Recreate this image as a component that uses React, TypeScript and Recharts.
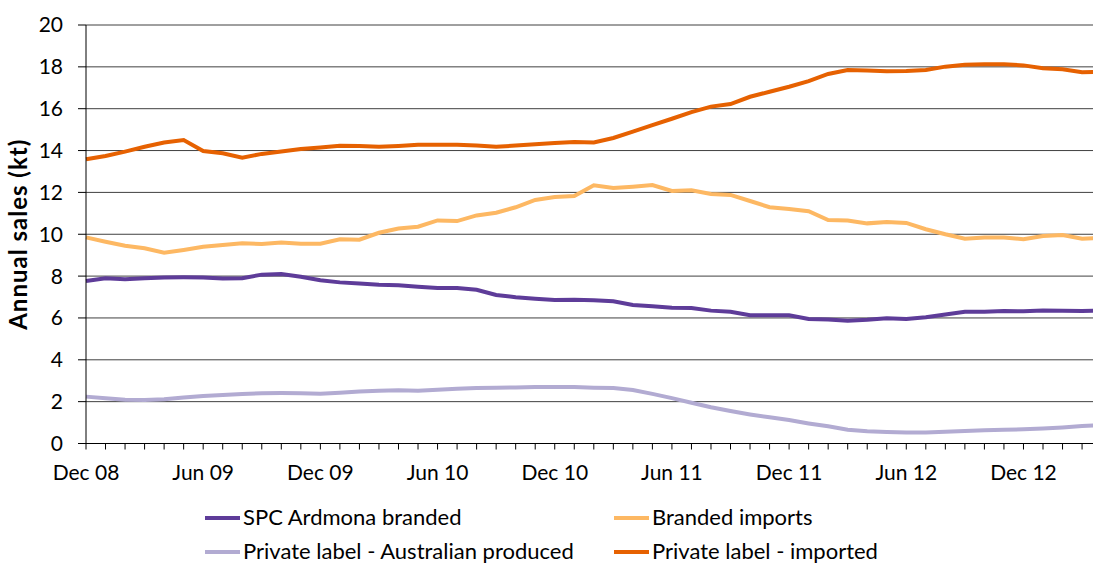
import React from 'react';
import { LineChart, Line, XAxis, YAxis, CartesianGrid, Legend } from 'recharts';

// monthly, Dec 08 .. Apr 13
const months = [
    'Dec 08', 'Jan 09', 'Feb 09', 'Mar 09', 'Apr 09', 'May 09', 'Jun 09', 'Jul 09', 'Aug 09', 'Sep 09', 'Oct 09', 'Nov 09',
    'Dec 09', 'Jan 10', 'Feb 10', 'Mar 10', 'Apr 10', 'May 10', 'Jun 10', 'Jul 10', 'Aug 10', 'Sep 10', 'Oct 10', 'Nov 10',
    'Dec 10', 'Jan 11', 'Feb 11', 'Mar 11', 'Apr 11', 'May 11', 'Jun 11', 'Jul 11', 'Aug 11', 'Sep 11', 'Oct 11', 'Nov 11',
    'Dec 11', 'Jan 12', 'Feb 12', 'Mar 12', 'Apr 12', 'May 12', 'Jun 12', 'Jul 12', 'Aug 12', 'Sep 12', 'Oct 12', 'Nov 12',
    'Dec 12', 'Jan 13', 'Feb 13', 'Mar 13', 'Apr 13',
];

const tickLabels = ['Dec 08', 'Jun 09', 'Dec 09', 'Jun 10', 'Dec 10', 'Jun 11', 'Dec 11', 'Jun 12', 'Dec 12'];
const yTicks = [0, 2, 4, 6, 8, 10, 12, 14, 16, 18, 20];

const spcBranded = [
    7.77, 7.9, 7.85, 7.9, 7.93, 7.94, 7.93, 7.88, 7.9, 8.07, 8.1, 7.97,
    7.8, 7.7, 7.65, 7.59, 7.56, 7.49, 7.43, 7.43, 7.35, 7.1, 6.99, 6.92,
    6.86, 6.87, 6.84, 6.8, 6.62, 6.56, 6.49, 6.48, 6.35, 6.3, 6.13, 6.13,
    6.13, 5.95, 5.93, 5.87, 5.91, 5.98, 5.95, 6.03, 6.16, 6.3, 6.3, 6.33,
    6.32, 6.36, 6.35, 6.33, 6.36,
];

const brandedImports = [
    9.85, 9.64, 9.45, 9.33, 9.12, 9.25, 9.4, 9.49, 9.57, 9.53, 9.6, 9.55,
    9.55, 9.76, 9.74, 10.07, 10.27, 10.36, 10.66, 10.63, 10.9, 11.03, 11.29, 11.64,
    11.78, 11.83, 12.34, 12.21, 12.27, 12.35, 12.07, 12.1, 11.92, 11.88, 11.59, 11.29,
    11.21, 11.1, 10.68, 10.66, 10.52, 10.59, 10.54, 10.24, 10.0, 9.79, 9.85, 9.85,
    9.76, 9.92, 9.96, 9.79, 9.82,
];

const privateAus = [
    2.24, 2.16, 2.09, 2.08, 2.11, 2.2, 2.27, 2.32, 2.37, 2.4, 2.41, 2.4,
    2.38, 2.43, 2.49, 2.52, 2.54, 2.52, 2.57, 2.62, 2.65, 2.67, 2.68, 2.7,
    2.7, 2.7, 2.67, 2.65, 2.56, 2.37, 2.17, 1.95, 1.73, 1.55, 1.39, 1.25,
    1.12, 0.96, 0.82, 0.66, 0.58, 0.55, 0.53, 0.53, 0.56, 0.6, 0.63, 0.66,
    0.68, 0.72, 0.77, 0.84, 0.88,
];

const privateImported = [
    13.58, 13.74, 13.95, 14.18, 14.38, 14.5, 13.98, 13.87, 13.66, 13.84, 13.95, 14.07,
    14.15, 14.23, 14.22, 14.18, 14.22, 14.28, 14.28, 14.28, 14.24, 14.18, 14.24, 14.3,
    14.36, 14.41, 14.39, 14.6, 14.9, 15.22, 15.52, 15.84, 16.1, 16.22, 16.57, 16.81,
    17.05, 17.32, 17.66, 17.85, 17.83, 17.79, 17.8, 17.85, 18.01, 18.1, 18.12, 18.12,
    18.07, 17.93, 17.88, 17.74, 17.77,
];

const series = [
    { key: 'spc', name: 'SPC Ardmona branded', color: '#5e3c99', values: spcBranded },
    { key: 'bimp', name: 'Branded imports', color: '#fdb863', values: brandedImports },
    { key: 'paus', name: 'Private label - Australian produced', color: '#b2abd2', values: privateAus },
    { key: 'pimp', name: 'Private label - imported', color: '#e66101', values: privateImported },
];

const data = months.map((m, i) => {
    const row: Record<string, string | number> = { month: m };
    series.forEach((s) => {
        row[s.key] = s.values[i];
    });
    return row;
});

const FONT = 'Lato, "Open Sans", sans-serif';

// legend: 2 columns x 2 rows
const legendCols = [205, 614];
const legendRows = [18, 52];

const LegendBox = () => (
    <div style={{ position: 'relative', width: 1093, height: 66, fontFamily: FONT, fontSize: 22, color: '#000' }}>
        {series.map((s, i) => {
            const x = legendCols[i % 2];
            const y = legendRows[Math.floor(i / 2)];
            return (
                <div key={s.key}>
                    <div style={{ position: 'absolute', left: x, top: y - 2, width: 35, height: 4, background: s.color }} />
                    <span style={{ position: 'absolute', left: x + 38, top: y - 14, lineHeight: '26px', whiteSpace: 'nowrap' }}>
                        {s.name}
                    </span>
                </div>
            );
        })}
    </div>
);

const App = (): React.ReactElement => {
    return (
        <div style={{ position: 'fixed', left: 0, top: 0, width: 1093, height: 566, overflow: 'hidden', background: '#fff' }}>
            <LineChart
                width={1110}
                height={566}
                data={data}
                margin={{ top: 25, right: 8.4, left: 0, bottom: 92.5 }}
            >
                <CartesianGrid vertical={false} stroke='#404040' strokeWidth={1} />
                <XAxis
                    dataKey='month'
                    interval={0}
                    height={30}
                    stroke='#000'
                    tickSize={6}
                    tickMargin={16}
                    tickFormatter={(v: string) => (tickLabels.includes(v) ? v : '')}
                    tick={{ fill: '#000', fontSize: 21, fontFamily: FONT }}
                />
                <YAxis
                    domain={[0, 20]}
                    ticks={yTicks}
                    width={86}
                    stroke='#000'
                    tickSize={8}
                    tickMargin={15}
                    tick={{ fill: '#000', fontSize: 21, fontFamily: FONT }}
                    label={{
                        value: 'Annual sales (kt)',
                        angle: -90,
                        position: 'insideLeft',
                        offset: 18,
                        style: { textAnchor: 'middle', fontWeight: 'bold', fontSize: 24, letterSpacing: 1, fontFamily: FONT, fill: '#000' },
                    }}
                />
                <Legend
                    layout='vertical'
                    verticalAlign='middle'
                    align='center'
                    wrapperStyle={{ left: 0, top: 500, width: 1093 }}
                    content={() => <LegendBox />}
                />
                {series.map((s) => (
                    <Line
                        key={s.key}
                        dataKey={s.key}
                        name={s.name}
                        stroke={s.color}
                        strokeWidth={4}
                        dot={false}
                        type='linear'
                        isAnimationActive={false}
                    />
                ))}
            </LineChart>
        </div>
    );
};

export default App;
